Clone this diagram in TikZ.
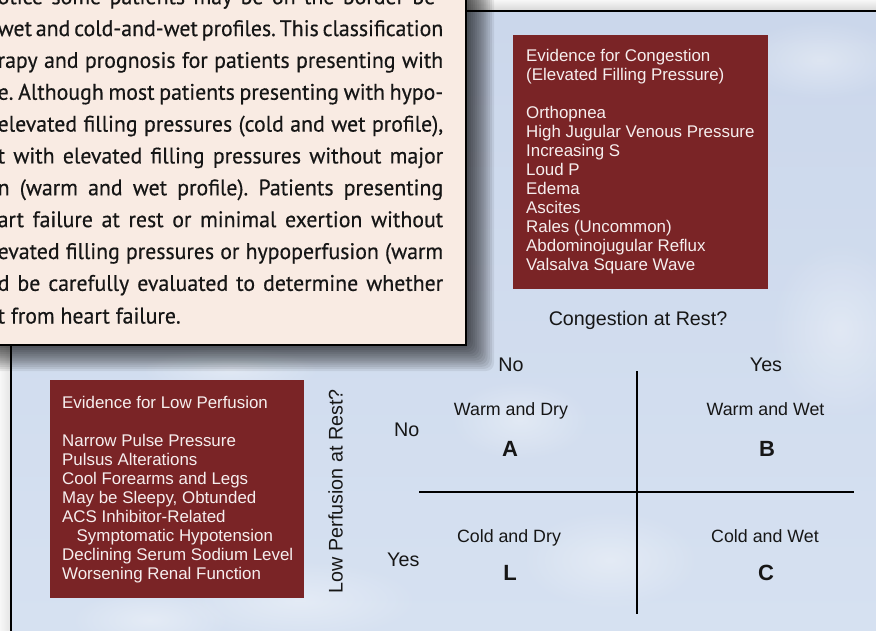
\documentclass[tikz,border=0pt]{standalone}
\usepackage{fontspec}
\setmainfont{Liberation Sans}
\newfontfamily\bodyfont[FakeStretch=0.97,FakeBold=0.4]{PT Sans}
\usetikzlibrary{fadings}

\definecolor{paper}{RGB}{249,235,227}
\definecolor{maroon}{RGB}{122,36,38}
\definecolor{boxink}{RGB}{246,238,238}
\definecolor{ink}{RGB}{22,22,22}
\definecolor{panelTop}{RGB}{203,215,235}
\definecolor{panelBot}{RGB}{214,225,241}
\definecolor{stripLight}{RGB}{247,247,247}
\definecolor{stripDark}{RGB}{214,214,214}

\tikzfading[name=softblob, inner color=transparent!0, outer color=transparent!100]

\tikzset{
  redbox/.style={fill=maroon, draw=none, inner sep=0pt, anchor=north west},
  boxtext/.style={text=boxink, inner sep=0pt, anchor=north west, align=left,
    font=\fontsize{16.9}{19}\selectfont},
  bodyline/.style={text=ink, inner sep=0pt, anchor=base west,
    font=\bodyfont\fontsize{22.5}{26}\selectfont\frenchspacing},
  axislabel/.style={text=ink, inner sep=0pt, anchor=base,
    font=\fontsize{19.7}{22}\selectfont},
  quadlabel/.style={text=ink, inner sep=0pt, anchor=base,
    font=\fontsize{17.8}{20}\selectfont},
  quadletter/.style={text=ink, inner sep=0pt, anchor=base,
    font=\bfseries\fontsize{22}{24}\selectfont},
  gridline/.style={draw=black, line width=2.8pt},
  frameline/.style={draw=black, line width=2.2pt},
  cloud/.style={fill=white, path fading=softblob, opacity=0.35},
}

\begin{document}
\begin{tikzpicture}[x=1pt, y=-1pt]
\useasboundingbox (0,0) rectangle (876,631);

% page strips around the panel
\shade[top color=stripLight, bottom color=stripDark] (0,0) rectangle (876,11);
\shade[left color=stripLight, right color=stripDark!60!stripLight] (0,0) rectangle (11,631);

% blue panel with cloudy texture
\shade[top color=panelTop, bottom color=panelBot] (11,11) rectangle (876,631);
\fill[cloud] (300,600) ellipse (120pt and 40pt);
\fill[cloud] (610,560) ellipse (90pt and 50pt);
\fill[cloud] (840,330) ellipse (70pt and 90pt);
\fill[cloud] (150,620) ellipse (80pt and 30pt);
\fill[cloud] (520,420) ellipse (70pt and 40pt);
\fill[cloud] (820,60) ellipse (80pt and 40pt);
\fill[cloud] (230,370) ellipse (90pt and 25pt);
\draw[frameline] (11,640) -- (11,11) -- (880,11);

% soft drop shadow of the text card
\foreach \i in {0,...,15}{
  \fill[black, opacity=0.07, rounded corners=8pt]
    (-60,-60) rectangle ({466+28-2.1*\i}, {345+26-2.1*\i});
}

% text card
\fill[paper] (-10,-10) rectangle (466,345);
\draw[line width=2.4pt] (-10,345) -- (466,345) -- (466,-10);

\foreach \txt [count=\k] in {
  {otice some patients may be on the border be-},
  {wet and cold-and-wet profiles. This classification},
  {rapy and prognosis for patients presenting with},
  {e. Although most patients presenting with hypo-},
  {elevated filling pressures (cold and wet profile),},
  {t with elevated filling pressures without major},
  {n (warm and wet profile). Patients presenting},
  {art failure at rest or minimal exertion without},
  {evated filling pressures or hypoperfusion (warm},
  {d be carefully evaluated to determine whether}}{
  \node[bodyline] (line\k) at (-2.5, {4.2+31.85*(\k-1)}) {\makebox[445.5pt][s]{\txt}};
}
\node[bodyline] (line11) at (-2.5, 323.5) {t from heart failure.};

% evidence for congestion
\node[redbox, minimum width=255pt, minimum height=254pt] (congbox) at (513,35) {};
\node[boxtext] (congtext) at (526,48.6) {Evidence for Congestion\\
(Elevated Filling Pressure)\\[19pt]
Orthopnea\\
High Jugular Venous Pressure\\
Increasing S\\
Loud P\\
Edema\\
Ascites\\
Rales (Uncommon)\\
Abdominojugular Reflux\\
Valsalva Square Wave};

% evidence for low perfusion
\node[redbox, minimum width=254pt, minimum height=218pt] (perfbox) at (50,380) {};
\node[boxtext] (perftext) at (62,395.6) {Evidence for Low Perfusion\\[19pt]
Narrow Pulse Pressure\\
Pulsus Alterations\\
Cool Forearms and Legs\\
May be Sleepy, Obtunded\\
ACS Inhibitor-Related\\
\hspace*{14.5pt}Symptomatic Hypotension\\
Declining Serum Sodium Level\\
Worsening Renal Function};

% axis questions and answers
\node[axislabel] (congq) at (638,325.5) {Congestion at Rest?};
\node[axislabel] (colno) at (511,371) {No};
\node[axislabel] (colyes) at (766,371) {Yes};
\node[axislabel, rotate=90] (perfq) at (342.5,491.3) {Low Perfusion at Rest?};
\node[axislabel] (rowno) at (406.7,436.7) {No};
\node[axislabel] (rowyes) at (403.3,566.7) {Yes};

% quadrant grid
\coordinate (vtop) at (637,371);
\coordinate (vbot) at (637,614);
\coordinate (hleft) at (419,492);
\coordinate (hright) at (854,492);
\draw[gridline] (vtop) -- (vbot);
\draw[gridline] (hleft) -- (hright);

% quadrant profiles
\node[quadlabel] (wd) at (511,415.7) {Warm and Dry};
\node[quadletter] (qa) at (510,456) {A};
\node[quadlabel] (ww) at (765.5,415.7) {Warm and Wet};
\node[quadletter] (qb) at (767,456) {B};
\node[quadlabel] (cd) at (509,542.7) {Cold and Dry};
\node[quadletter] (ql) at (510,580.7) {L};
\node[quadlabel] (cw) at (765,542.7) {Cold and Wet};
\node[quadletter] (qc) at (766,580.7) {C};
\end{tikzpicture}
\end{document}
